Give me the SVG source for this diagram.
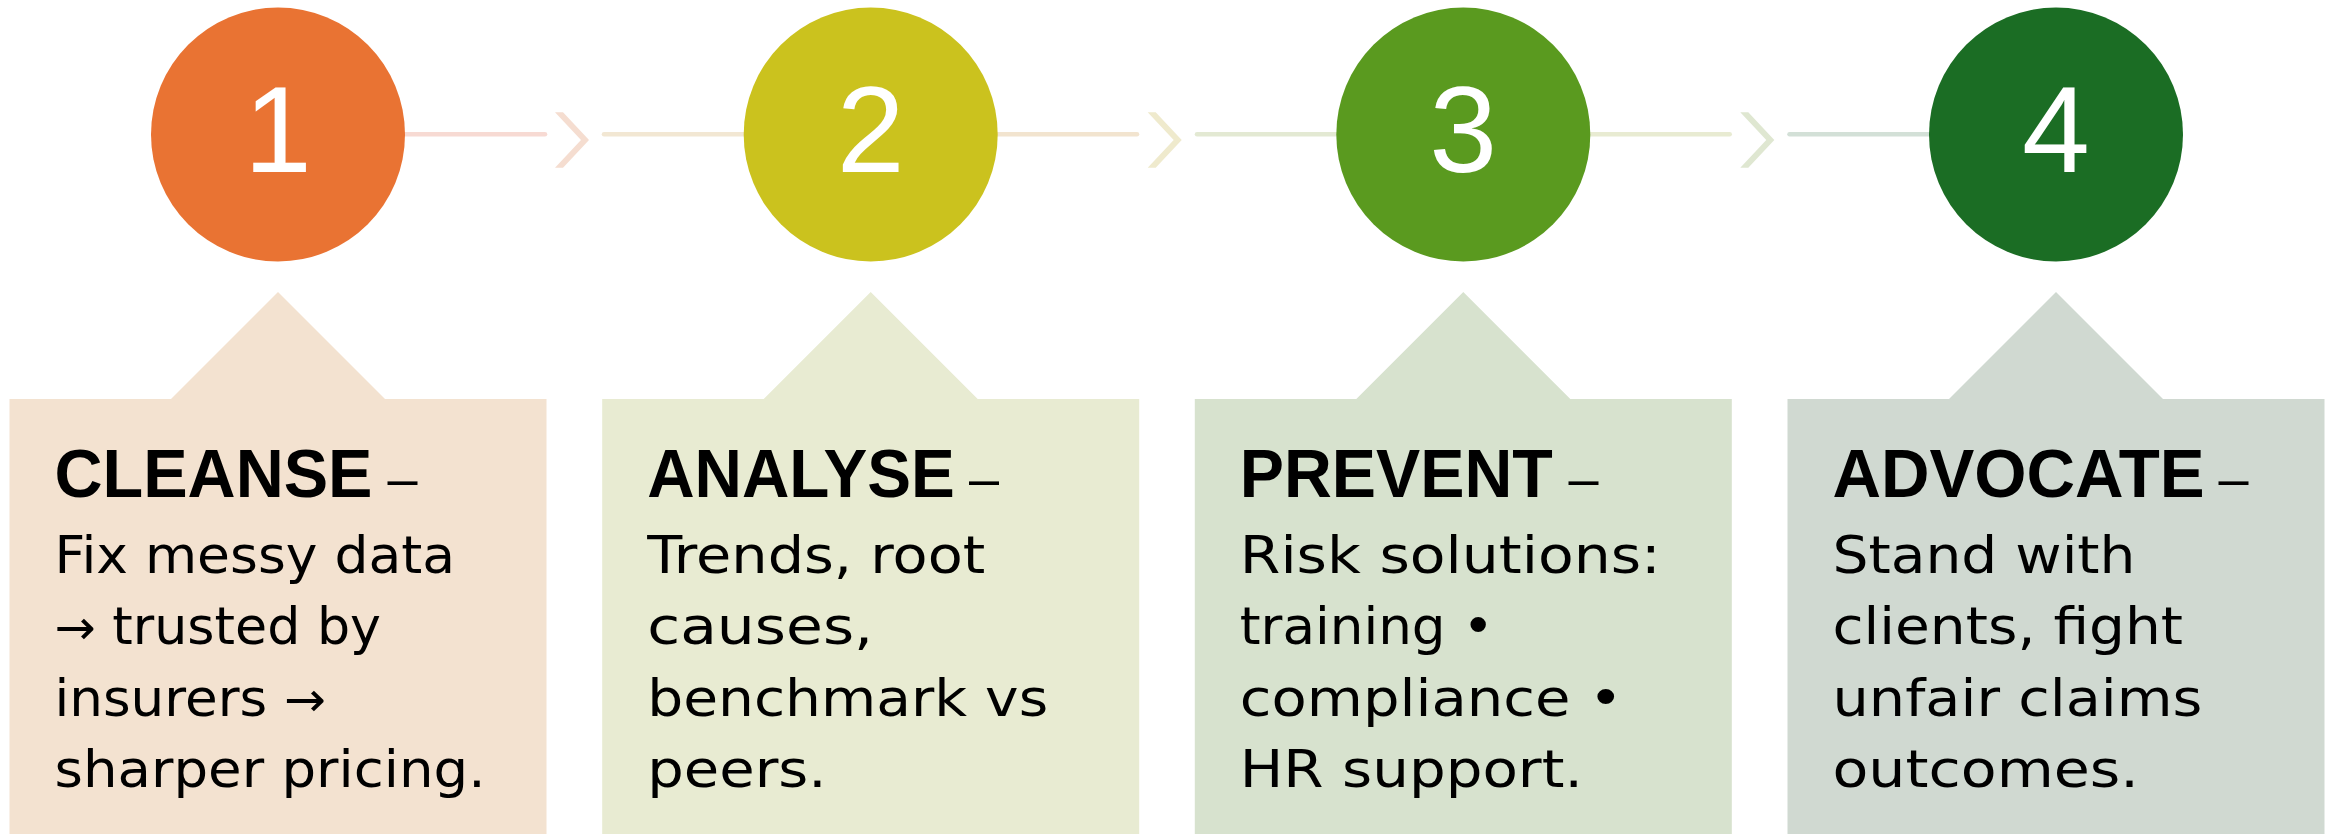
<svg xmlns="http://www.w3.org/2000/svg" width="2328" height="834" viewBox="0 0 2328 834">
  <style>
    .num { font-family: "Liberation Sans", Arial, sans-serif; font-size: 122px; fill: #ffffff; text-anchor: middle; }
    .head { font-family: "Liberation Sans", Arial, sans-serif; font-weight: bold; font-size: 68px; fill: #000000; }
    .dash { font-family: "Liberation Sans", Arial, sans-serif; font-size: 54px; fill: #000000; }
    .body { font-family: "DejaVu Sans", "Liberation Sans", sans-serif; font-size: 51px; fill: #000000; }
    .arr { font-size: 48px; }
    .link { stroke-width: 4.5; stroke-linecap: round; fill: none; }
  </style>
  <rect width="2328" height="834" fill="#ffffff"/>

  <!-- timeline connectors: line segments and chevrons between the step circles -->
  <g id="connectors">
    <line class="link" x1="278" y1="134.3" x2="545" y2="134.3" stroke="#F7DAD3"/>
    <polygon points="555,112.3 563,112.3 589,140 563,167.7 555,167.7 581,140" fill="#F5DDD0"/>
    <line class="link" x1="604" y1="134.3" x2="871" y2="134.3" stroke="#F2E7D3"/>

    <line class="link" x1="871" y1="134.3" x2="1137" y2="134.3" stroke="#F2E4CF"/>
    <polygon points="1147.7,112.3 1155.7,112.3 1181.7,140 1155.7,167.7 1147.7,167.7 1173.7,140" fill="#EFEACD"/>
    <line class="link" x1="1197" y1="134.3" x2="1463.5" y2="134.3" stroke="#E3E9D3"/>

    <line class="link" x1="1463.5" y1="134.3" x2="1729.7" y2="134.3" stroke="#E8EBD2"/>
    <polygon points="1740.3,112.3 1748.3,112.3 1774.3,140 1748.3,167.7 1740.3,167.7 1766.3,140" fill="#DFE7D1"/>
    <line class="link" x1="1789.5" y1="134.3" x2="2056" y2="134.3" stroke="#D3E0D7"/>
  </g>

  <!-- step 1 -->
  <g id="step-1">
    <circle cx="278" cy="134.5" r="127" fill="#E97333"/>
    <text class="num" x="278" y="172">1</text>
    <path d="M9.5,399 H171 L278,292 L385,399 H546.5 V834 H9.5 Z" fill="#F3E2D0"/>
    <text class="head" x="54.5" y="497" textLength="318" lengthAdjust="spacingAndGlyphs">CLEANSE</text>
    <text class="dash" x="387.5" y="497">–</text>
    <text class="body" x="54.5" y="572.5" textLength="400.5" lengthAdjust="spacingAndGlyphs">Fix messy data</text>
    <text class="body" x="54.5" y="644" textLength="326.5" lengthAdjust="spacingAndGlyphs"><tspan class="arr">→</tspan> trusted by</text>
    <text class="body" x="54.5" y="715.5" textLength="271.5" lengthAdjust="spacingAndGlyphs">insurers <tspan class="arr">→</tspan></text>
    <text class="body" x="54.5" y="787" textLength="431" lengthAdjust="spacingAndGlyphs">sharper pricing.</text>
  </g>

  <!-- step 2 -->
  <g id="step-2">
    <circle cx="870.7" cy="134.5" r="127" fill="#CBC21E"/>
    <text class="num" x="870.7" y="172">2</text>
    <path d="M602.2,399 H763.7 L870.7,292 L977.7,399 H1139.2 V834 H602.2 Z" fill="#E8EBD2"/>
    <text class="head" x="647.2" y="497" textLength="307.5" lengthAdjust="spacingAndGlyphs">ANALYSE</text>
    <text class="dash" x="969" y="497">–</text>
    <text class="body" x="647.2" y="572.5" textLength="338" lengthAdjust="spacingAndGlyphs">Trends, root</text>
    <text class="body" x="647.2" y="644" textLength="226" lengthAdjust="spacingAndGlyphs">causes,</text>
    <text class="body" x="647.2" y="715.5" textLength="401" lengthAdjust="spacingAndGlyphs">benchmark vs</text>
    <text class="body" x="647.2" y="787" textLength="179.5" lengthAdjust="spacingAndGlyphs">peers.</text>
  </g>

  <!-- step 3 -->
  <g id="step-3">
    <circle cx="1463.3" cy="134.5" r="127" fill="#5A9A1F"/>
    <text class="num" x="1463.3" y="172">3</text>
    <path d="M1194.8,399 H1356.3 L1463.3,292 L1570.3,399 H1731.8 V834 H1194.8 Z" fill="#D7E2CE"/>
    <text class="head" x="1239.8" y="497" textLength="313" lengthAdjust="spacingAndGlyphs">PREVENT</text>
    <text class="dash" x="1568.5" y="497">–</text>
    <text class="body" x="1239.8" y="572.5" textLength="421" lengthAdjust="spacingAndGlyphs">Risk solutions:</text>
    <text class="body" x="1239.8" y="644" textLength="254" lengthAdjust="spacingAndGlyphs">training •</text>
    <text class="body" x="1239.8" y="715.5" textLength="383" lengthAdjust="spacingAndGlyphs">compliance •</text>
    <text class="body" x="1239.8" y="787" textLength="343" lengthAdjust="spacingAndGlyphs">HR support.</text>
  </g>

  <!-- step 4 -->
  <g id="step-4">
    <circle cx="2056" cy="134.5" r="127" fill="#1B6D24"/>
    <text class="num" x="2056" y="172">4</text>
    <path d="M1787.5,399 H1949 L2056,292 L2163,399 H2324.5 V834 H1787.5 Z" fill="#D0D9D1"/>
    <text class="head" x="1832.5" y="497" textLength="372" lengthAdjust="spacingAndGlyphs">ADVOCATE</text>
    <text class="dash" x="2218.5" y="497">–</text>
    <text class="body" x="1832.5" y="572.5" textLength="303" lengthAdjust="spacingAndGlyphs">Stand with</text>
    <text class="body" x="1832.5" y="644" textLength="350.5" lengthAdjust="spacingAndGlyphs">clients, fight</text>
    <text class="body" x="1832.5" y="715.5" textLength="370" lengthAdjust="spacingAndGlyphs">unfair claims</text>
    <text class="body" x="1832.5" y="787" textLength="306.5" lengthAdjust="spacingAndGlyphs">outcomes.</text>
  </g>
</svg>
